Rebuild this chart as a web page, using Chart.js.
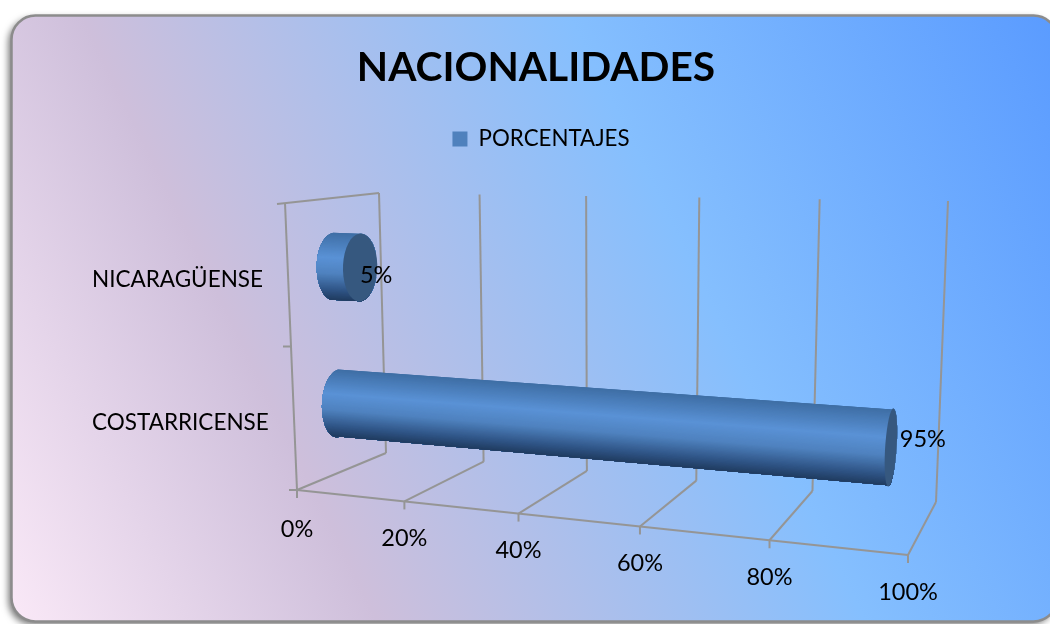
<!DOCTYPE html>
<html>
<head>
<meta charset="utf-8">
<style>html,body{margin:0;padding:0;background:#fff}canvas{display:block}</style>
<script src="https://cdn.jsdelivr.net/npm/chart.js@4"></script>
</head>
<body>
<canvas id="c" width="1050" height="624"></canvas>
<script>
const categories = ['NICARAGÜENSE', 'COSTARRICENSE'];
const porcentajes = [5, 95];
const seriesName = 'PORCENTAJES';
const chartTitle = 'NACIONALIDADES';

const FONT = 'Lato, Carlito, sans-serif';
const GRID = '#959595';
const LABEL_SHIFT = [[16, 8], [32, -8]];
const DEPTH_RADIUS = 0.19;
const FRONT_C = -0.147;
const SHADE = [[0, [63, 111, 166]], [0.36, [90, 146, 214]], [0.6, [79, 130, 191]], [0.85, [47, 84, 133]], [1, [31, 58, 94]]];

function quadMap(q) {
  const [x0, y0, x1, y1, x2, y2, x3, y3] = q;
  const dx1 = x1 - x2, dx2 = x3 - x2, sx = x0 - x1 + x2 - x3;
  const dy1 = y1 - y2, dy2 = y3 - y2, sy = y0 - y1 + y2 - y3;
  const den = dx1 * dy2 - dx2 * dy1;
  const g = (sx * dy2 - dx2 * sy) / den, h = (dx1 * sy - sx * dy1) / den;
  const a = x1 - x0 + g * x1, b = x3 - x0 + h * x3;
  const d = y1 - y0 + g * y1, e = y3 - y0 + h * y3;
  return (u, v) => {
    const w = g * u + h * v + 1;
    return [(a * u + b * v + x0) / w, (d * u + e * v + y0) / w];
  };
}
// perspective box the flat Chart.js scales are projected onto
const back = quadMap([386, 453, 936, 502, 948, 201, 379, 193]);
function front(u) {
  const s = u * (1 + FRONT_C) / (1 + FRONT_C * u);
  return [297 + 611 * s, 490 + 65 * s];
}
function floor(u, d) {
  const f = front(u), b = back(u, 0);
  return [f[0] + (b[0] - f[0]) * d, f[1] + (b[1] - f[1]) * d];
}
function project(u, h, d) {
  const f = floor(u, d);
  const frontH = [-12 + 22 * u, -287 - 38 * u];
  const backH = [back(u, 1)[0] - back(u, 0)[0], back(u, 1)[1] - back(u, 0)[1]];
  return [f[0] + h * (frontH[0] + (backH[0] - frontH[0]) * d),
          f[1] + h * (frontH[1] + (backH[1] - frontH[1]) * d)];
}
function line(ctx, a, b) {
  ctx.beginPath(); ctx.moveTo(a[0], a[1]); ctx.lineTo(b[0], b[1]); ctx.stroke();
}
function shadeAt(t) {
  for (let i = 1; i < SHADE.length; i++) {
    if (t <= SHADE[i][0]) {
      const [t0, c0] = SHADE[i - 1], [t1, c1] = SHADE[i];
      const k = Math.max(0, (t - t0) / (t1 - t0));
      return 'rgb(' + c0.map((c, j) => Math.round(c + (c1[j] - c) * k)).join(',') + ')';
    }
  }
  return 'rgb(' + SHADE[SHADE.length - 1][1].join(',') + ')';
}
function drawCylinder(ctx, u, h, hb) {
  const ring = (uu, from, to, pts) => {
    for (let i = 0; i <= 36; i++) {
      const t = from + (to - from) * i / 36;
      pts.push(project(uu, h + hb * Math.cos(t), 0.5 + DEPTH_RADIUS * Math.sin(t)));
    }
    return pts;
  };
  const hull = ring(0, 0, -Math.PI, []);
  ring(u, Math.PI, 0, hull);
  const path = pts => {
    ctx.beginPath();
    pts.forEach((p, i) => i ? ctx.lineTo(p[0], p[1]) : ctx.moveTo(p[0], p[1]));
    ctx.closePath();
  };
  ctx.save();
  path(hull);
  ctx.clip();
  const n = 60, u0 = -0.06, u1 = u + 0.03;
  const low = h - hb * 1.2;
  for (let i = -2; i < n; i++) {
    const a = h + hb - 2 * hb * i / n;
    const p0 = project(u0, a, 0.5), p1 = project(u1, a, 0.5);
    const p2 = project(u1, low, 0.5), p3 = project(u0, low, 0.5);
    ctx.fillStyle = shadeAt(Math.min(1, Math.max(0, i / n)));
    ctx.beginPath();
    ctx.moveTo(p0[0], p0[1]); ctx.lineTo(p1[0], p1[1]);
    ctx.lineTo(p2[0], p2[1]); ctx.lineTo(p3[0], p3[1]);
    ctx.closePath(); ctx.fill();
  }
  ctx.restore();
  path(ring(u, 0, 2 * Math.PI, []));
  ctx.fillStyle = '#36587f';
  ctx.fill();
}

const scene = {
  id: 'scene',
  afterLayout(chart) { chart.titleBlock.left -= 10; },
  beforeDraw(chart) {
    const ctx = chart.ctx;
    ctx.save();
    ctx.fillStyle = '#fff';
    ctx.fillRect(0, 0, 1050, 624);
    const g = ctx.createLinearGradient(0, 624, 1093, 90);
    g.addColorStop(0, '#fbeaf8');
    g.addColorStop(0.28, '#cebfdb');
    g.addColorStop(0.64, '#85bffe');
    g.addColorStop(1, '#5a9bff');
    ctx.beginPath();
    ctx.roundRect(11.5, 15.5, 1046, 606, 24);
    ctx.shadowColor = 'rgba(0,0,0,0.55)';
    ctx.shadowBlur = 7;
    ctx.shadowOffsetX = -3;
    ctx.shadowOffsetY = 3;
    ctx.fillStyle = g;
    ctx.fill();
    ctx.shadowColor = 'transparent';
    ctx.lineWidth = 2.5;
    ctx.strokeStyle = '#8c8c8c';
    ctx.stroke();
    ctx.restore();
  },
  beforeDatasetsDraw(chart) {
    const ctx = chart.ctx, xs = chart.scales.x, ys = chart.scales.y;
    const meta = chart.getDatasetMeta(0);
    const uOf = v => (xs.getPixelForValue(v) - xs.left) / xs.width;
    ctx.save();
    ctx.strokeStyle = GRID;
    ctx.lineWidth = 2;
    xs.ticks.forEach(t => {
      const u = uOf(t.value);
      const fr = front(u);
      line(ctx, back(u, 1), back(u, 0));
      line(ctx, back(u, 0), fr);
      line(ctx, fr, [fr[0], fr[1] + 8]);
    });
    line(ctx, front(0), front(1));
    const topFront = project(0, 1, 0), base = front(0);
    line(ctx, base, topFront);
    line(ctx, back(0, 1), [topFront[0] - 8, topFront[1] + 1]);
    [0, 0.5].forEach(h => {
      const p = project(0, h, 0);
      line(ctx, p, [p[0] - 8, p[1]]);
    });
    meta.data.forEach(el => {
      const h = (ys.bottom - el.y) / ys.height;
      drawCylinder(ctx, (el.x - xs.left) / xs.width, h, el.height / 2 / ys.height);
    });
    ctx.fillStyle = '#000';
    ctx.textBaseline = 'middle';
    ctx.textAlign = 'center';
    ctx.font = '23.5px ' + FONT;
    xs.ticks.forEach((t, i) => {
      const p = front(uOf(t.value));
      ctx.fillText(t.label, p[0], p[1] + (i === 0 ? 39 : 37));
    });
    ctx.font = '22.5px ' + FONT;
    categories.forEach((c, i) => {
      const h = (ys.bottom - ys.getPixelForValue(i)) / ys.height;
      ctx.textAlign = 'left';
      ctx.fillText(c, 92, project(0, h, 0)[1] + 4.5);
    });
    ctx.textAlign = 'center';
    ctx.font = '23.5px ' + FONT;
    meta.data.forEach((el, i) => {
      const h = (ys.bottom - el.y) / ys.height;
      const p = project((el.x - xs.left) / xs.width, h, 0.5);
      ctx.fillText(porcentajes[i] + '%', p[0] + LABEL_SHIFT[i][0], p[1] + LABEL_SHIFT[i][1]);
    });
    ctx.restore();
    return false;
  }
};

new Chart(document.getElementById('c'), {
  type: 'bar',
  data: {
    labels: categories,
    datasets: [{ label: seriesName, data: porcentajes, backgroundColor: '#4f81bd',
                 categoryPercentage: 1, barPercentage: 0.49 }]
  },
  options: {
    indexAxis: 'y',
    responsive: false,
    animation: false,
    layout: { padding: { left: 32 } },
    plugins: {
      tooltip: { enabled: false },
      title: { display: true, text: chartTitle, color: '#000',
               font: { family: FONT, size: 40.7, weight: 'bold' }, padding: { top: 43, bottom: 36 } },
      legend: { position: 'top',
                labels: { color: '#000', font: { family: FONT, size: 22.3 }, boxWidth: 15, boxHeight: 15, padding: 0 } }
    },
    scales: {
      x: { display: false, min: 0, max: 100, ticks: { stepSize: 20, callback: v => v + '%' } },
      y: { display: false }
    }
  },
  plugins: [scene]
});
</script>
</body>
</html>
